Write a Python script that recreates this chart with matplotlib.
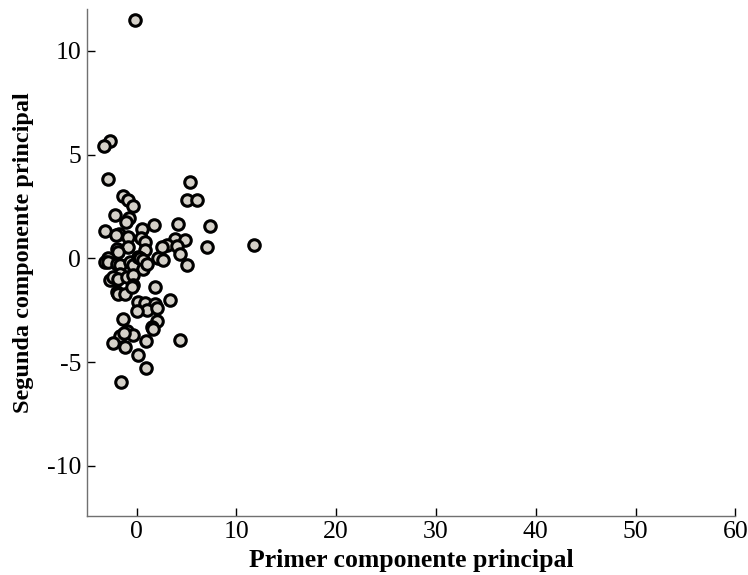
import matplotlib
matplotlib.use("Agg")
import matplotlib.pyplot as plt

pc1 = [-0.2, -2.7, -3.3, -2.9, 5.3, 5.0, 6.0, -1.4, -0.9, -0.4, -2.2, -0.8, -1.1, 0.5, 1.7,
       4.1, 7.4, -3.2, -1.8, -2.1, -0.9, 0.4, 3.8, 4.8, 3.0, 4.0, 7.1, 11.8, 4.3, -2.0,
       -0.9, 0.8, 0.8, 2.5, -1.9, -2.9, -3.2, -2.9, -2.0, -1.7, -0.7, -0.4, 0.1, 0.3, 0.6,
       0.6, 1.0, 2.1, 2.6, 5.0, -1.7, -2.7, -2.4, -1.9, -1.0, -0.4, -0.4, 1.8, -2.0, -1.9,
       -1.2, -0.5, 0.1, 0.8, 1.8, 3.3, 1.0, 0.0, 2.0, -1.4, 2.0, 1.5, 1.6, -1.0, -0.4,
       -1.7, -1.3, -2.4, -1.2, 0.9, 4.3, 0.1, 0.9, -1.6]
pc2 = [11.5, 5.65, 5.4, 3.8, 3.7, 2.8, 2.8, 3.0, 2.8, 2.5, 2.1, 1.96, 1.75, 1.43, 1.59,
       1.63, 1.55, 1.3, 1.19, 1.1, 1.02, 0.98, 0.95, 0.9, 0.63, 0.58, 0.56, 0.63, 0.2, 0.47,
       0.54, 0.78, 0.38, 0.54, 0.3, 0.0, -0.18, -0.18, -0.26, -0.34, -0.18, -0.34, 0.06, 0.0, -0.1,
       -0.5, -0.26, 0.0, -0.1, -0.32, -0.74, -1.05, -0.9, -0.98, -0.9, -0.82, -1.3, -1.38, -1.6, -1.73,
       -1.7, -1.4, -2.1, -2.15, -2.2, -2.0, -2.47, -2.53, -2.37, -2.9, -3.0, -3.3, -3.4, -3.5, -3.7,
       -3.75, -3.6, -4.07, -4.26, -4.0, -3.94, -4.66, -5.3, -5.95]

xticks = [0, 10, 20, 30, 40, 50, 60]
yticks = [-10, -5, 0, 5, 10]
xlabel = "Primer componente principal"
ylabel = "Segunda componente principal"

plt.rcParams['font.family'] = ['Liberation Serif', 'DejaVu Serif']
plt.rcParams['axes.unicode_minus'] = False

fig = plt.figure(figsize=(7.48, 5.75), dpi=100)
ax = fig.add_axes([0.116, 0.103, 0.867, 0.881])
ax.plot(pc1, pc2, linestyle='none', marker='o', markersize=8.3,
        markerfacecolor='#d4d0c8', markeredgecolor='black', markeredgewidth=2.2)
ax.set_xlim(-5, 60)
ax.set_ylim(-12.4, 12.0)
ax.set_xticks(xticks)
ax.set_yticks(yticks)
ax.spines['top'].set_visible(False)
ax.spines['right'].set_visible(False)
for s in ['left', 'bottom']:
    ax.spines[s].set_color('#707070')
    ax.spines[s].set_linewidth(1.0)
ax.tick_params(direction='in', length=6, width=1, labelsize=18.5, color='black', pad=4)
ax.set_xlabel(xlabel, fontsize=18.5, fontweight='bold', labelpad=4)
ax.set_ylabel(ylabel, fontsize=17.5, fontweight='bold')
ax.yaxis.set_label_coords(-0.082, 0.519)
fig.savefig("out.png", dpi=100)
